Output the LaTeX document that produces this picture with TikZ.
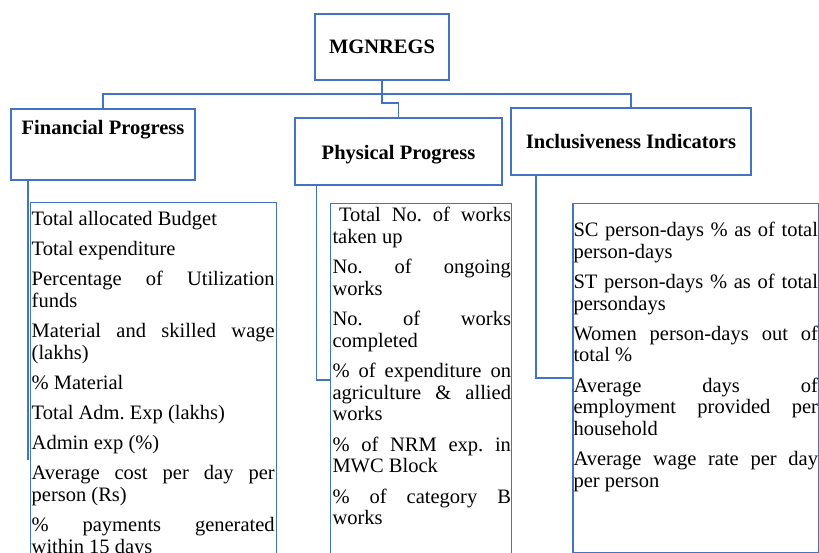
\documentclass[tikz,border=0pt]{standalone}
\usepackage{fontspec}
\setmainfont{Liberation Serif}
\usetikzlibrary{calc}
\definecolor{lineblue}{RGB}{68,114,196}
\begin{document}
\frenchspacing
\begin{tikzpicture}[x=1pt,y=-1pt,
  hbox/.style={draw=lineblue, line width=2pt, inner sep=0pt, font=\fontsize{20.5}{24}\selectfont\bfseries},
  lbox/.style={draw=lineblue, line width=1.3pt, inner sep=0pt, anchor=north west},
  ltext/.style={anchor=north west, inner sep=0pt, align=justify, font=\fontsize{20.5}{21.7}\selectfont,
    execute at begin node={\frenchspacing\setlength{\parskip}{8.5pt}\hyphenpenalty=10000\exhyphenpenalty=10000\tolerance=10000\hbadness=10000\strut}},
  conn/.style={draw=lineblue, line width=1.8pt}]
\clip (0,0) rectangle (819,553);
\useasboundingbox (0,0) rectangle (819,553);

% header boxes
\node[hbox, minimum width=134, minimum height=66] (mg) at (382,47) {MGNREGS};
\node[hbox, anchor=north west, minimum width=184, text height=25.3pt, text depth=45.7pt] (fin) at (10,108) {Financial Progress};
\node[hbox, anchor=north, minimum width=207, text height=41.3pt, text depth=25.7pt] (phys) at (398.5,117) {Physical Progress};
\node[hbox, minimum width=240, minimum height=67] (incl) at (631,141.5) {Inclusiveness Indicators};

% list boxes
\node[lbox, minimum width=246, minimum height=370] (finbox) at (30,202) {};
\node[lbox, minimum width=181, minimum height=370] (physbox) at (330,203) {};
\node[lbox, minimum width=246, minimum height=349] (inclbox) at (572.3,203) {};

% list texts
\node[ltext, text width=243pt] (fintext) at (31.5,209.8) {%
Total allocated Budget\par
Total expenditure\par
Percentage of Utilization\linebreak funds\par
Material and skilled wage\linebreak (lakhs)\par
\% Material\par
Total Adm. Exp (lakhs)\par
Admin exp (\%)\par
Average cost per day per\linebreak person (Rs)\par
\% payments generated\linebreak within 15 days};

\node[ltext, text width=178.5pt] (phystext) at (332.3,206.5) {%
\hspace*{6.5pt}Total No. of works\linebreak taken up\par
No. of ongoing\linebreak works\par
No. of works\linebreak completed\par
\% of expenditure on\linebreak agriculture \& allied\linebreak works\par
\% of NRM exp. in\linebreak MWC Block\par
\% of category B\linebreak works};

\node[ltext, text width=244.5pt] (incltext) at (573.3,221.1) {%
SC person-days \% as of total\linebreak person-days\par
ST person-days \% as of total\linebreak persondays\par
Women person-days out of\linebreak total \%\par
Average days of\linebreak employment provided per\linebreak household\par
Average wage rate per day\linebreak per person};

% connectors
\coordinate (j1) at (382,94);
\coordinate (j2) at (382,103);
\draw[conn] (fin.north) |- (j1) -| (incl.north);
\draw[conn] (mg.south) -- (j2) -| (phys.north);

\coordinate (fe) at (28.3,460);
\coordinate (pe) at (316.5,380);
\coordinate (ie) at (536,378);
\draw[conn] (fin.south -| fe) -- (fe);
\draw[conn] (phys.south -| pe) -- (pe) -- (physbox.west |- pe);
\draw[conn] (incl.south -| ie) -- (ie) -- (inclbox.west |- ie);
\end{tikzpicture}
\end{document}
